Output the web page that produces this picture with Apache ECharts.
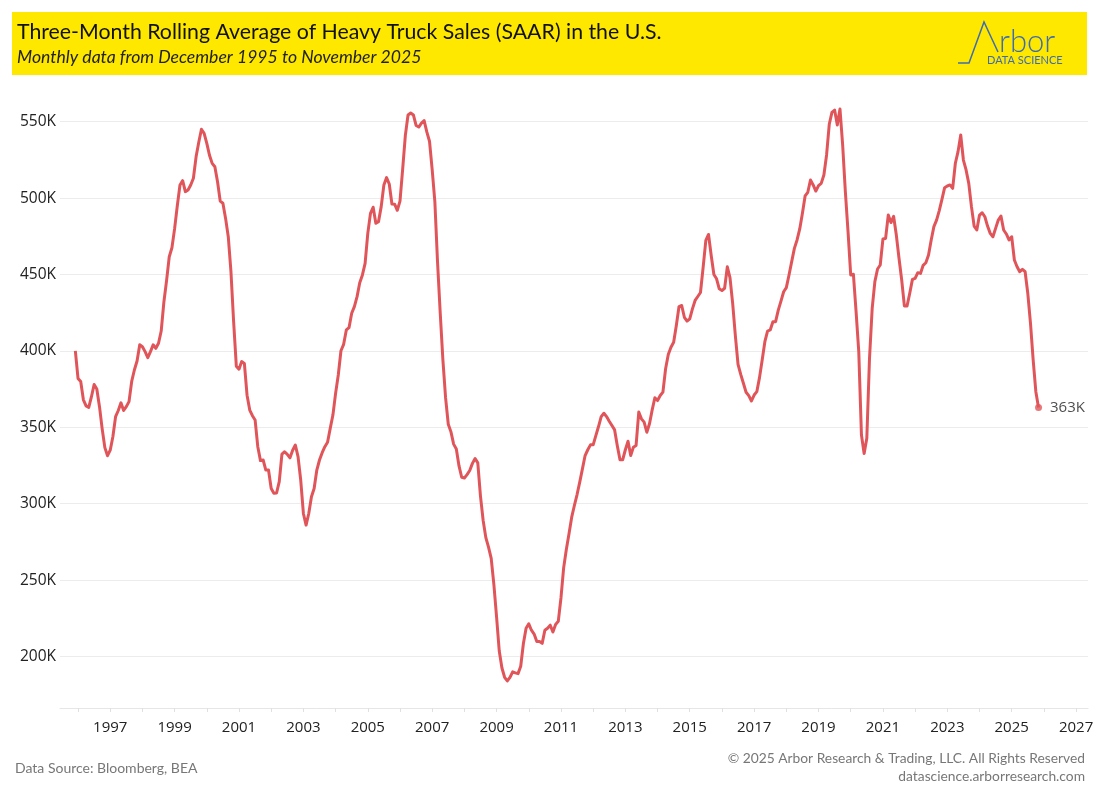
<!DOCTYPE html>
<html>
<head>
<meta charset="utf-8">
<script src="https://cdn.jsdelivr.net/npm/echarts@6/dist/echarts.min.js"></script>
<style>
  html, body { margin: 0; padding: 0; background: #ffffff; }
  #chart { width: 1100px; height: 800px; }
</style>
</head>
<body>
<div id="chart"></div>
<script>
// ---- Data (thousands of units, SAAR, 3-month rolling average) ----
const startYear = 1995;
const startMonth = 12; // December 1995
const truckSales = [
  400, 382, 380, 368, 364, 363, 370, 378, 375, 363.5, 349, 336.7,
  331.4, 335, 344, 357, 361, 366, 361, 363.5, 366.8, 380, 387.5, 393.4,
  404, 402.7, 399.5, 395.6, 399.5, 404, 401.7, 405, 413, 432, 446, 461.6,
  467.5, 480, 495, 508.6, 511.4, 504.2, 505.3, 508.6, 513, 527, 536.5, 545,
  542.4, 535.8, 528, 522.7, 520.5, 510.7, 498, 496.6, 486.7, 474.7, 451.8, 419,
  390, 388, 393, 391.8, 371, 361.3, 357.6, 354.8, 337.3, 328.2, 328.6, 322,
  322, 310, 306.8, 307, 314.4, 332.5, 334, 332.3, 330, 335, 338.4, 330.8,
  315.5, 293.6, 286, 293.6, 304.6, 310, 322, 328.6, 333.4, 337.3, 340.2, 349.3,
  358, 372.2, 384.2, 400.1, 404.3, 413.7, 415.2, 424.6, 429, 435.5, 444.6, 449.7,
  457.3, 476.9, 490, 494, 483.5, 484.6, 494.4, 508.6, 513.4, 509.2, 496.1, 496,
  492, 498, 519, 541, 554.4, 555.7, 554.4, 547.5, 546.5, 549, 550.7, 543.3,
  537.2, 518.6, 497.6, 458.1, 424.8, 393.9, 369.2, 352, 347, 339, 335.8, 324.7,
  317.3, 316.8, 319, 321.7, 326.4, 329.6, 326.7, 305, 289, 277.8, 271.6, 264.2,
  247, 226, 203.6, 192.5, 186.4, 184, 186.4, 190, 189.3, 188.8, 193.6, 208.5,
  218.5, 221.4, 217.2, 214.7, 209.8, 209.8, 208.6, 217.2, 218.5, 220.5, 216, 221,
  223, 238.3, 258, 270, 280.3, 291.2, 298.8, 306, 314.1, 322.8, 331.5, 335.3,
  338.5, 338.5, 344.6, 350.5, 357, 359.2, 357, 354, 351.2, 348.3, 338, 328.7,
  328.7, 335.3, 340.9, 331.5, 337, 338.1, 360, 355.5, 353.4, 346.8, 352.3, 361.4,
  369.3, 367.5, 370.8, 373, 388.3, 397.6, 402.4, 405.7, 416.6, 429, 429.7, 422,
  419.5, 421, 427.5, 433, 435.6, 438.2, 454.8, 472.3, 476.2, 462.4, 450, 447.2,
  440.6, 439.5, 441, 455, 448, 431.1, 410, 391.2, 384.6, 378.8, 372.9, 370.7,
  367.2, 371.1, 373.3, 382.5, 394, 406, 413, 413.7, 419.1, 419.1, 426.7, 432.6,
  438.7, 441.4, 449.7, 458.4, 467.1, 472.6, 479.8, 490, 501.4, 503.8, 511.8, 508.6,
  504.6, 508.1, 509.6, 515.1, 528.2, 548.3, 556.1, 557.6, 547.8, 558.3, 534.7, 504.2,
  478, 449.7, 450.1, 425.7, 399.5, 344.9, 332.9, 342.8, 395, 427.8, 445.3, 453.6,
  456.2, 473.2, 473.6, 489, 484, 488, 475.8, 460.6, 446.4, 429.4, 429.4, 437.7,
  446.8, 447.5, 451.2, 450.7, 456, 457.7, 462.7, 472.6, 481.3, 485.6, 491.8, 499.2,
  506.8, 507.9, 508.6, 506.4, 522.8, 530.4, 541.3, 524.9, 518.4, 509.6, 494.4, 481.7,
  479.1, 488.9, 490.4, 487.8, 481.7, 476.9, 474.7, 480.2, 485.6, 488.3, 479.1, 476.5,
  472.6, 474.7, 459.5, 455.1, 451.8, 453.4, 451.8, 437.7, 418.1, 394.1, 373.3, 363
];
const yearLabels = [1997, 1999, 2001, 2003, 2005, 2007, 2009, 2011, 2013, 2015, 2017, 2019, 2021, 2023, 2025, 2027];
const yearTicks = [1996, 1997, 1998, 1999, 2000, 2001, 2002, 2003, 2004, 2005, 2006, 2007, 2008, 2009, 2010, 2011,
  2012, 2013, 2014, 2015, 2016, 2017, 2018, 2019, 2020, 2021, 2022, 2023, 2024, 2025, 2026, 2027];
const valueTicks = [200, 250, 300, 350, 400, 450, 500, 550];

const titleText = 'Three-Month Rolling Average of Heavy Truck Sales (SAAR) in the U.S.';
const subtitleText = 'Monthly data from December 1995 to November 2025';
const sourceText = 'Data Source: Bloomberg, BEA';
const copyrightText = '\u00A9 2025 Arbor Research & Trading, LLC. All Rights Reserved';
const siteText = 'datascience.arborresearch.com';

// ---- Build series ----
const points = truckSales.map((v, i) => [startYear + (startMonth - 1 + i) / 12, v]);
const lastPoint = points[points.length - 1];

const RED = '#E05559';
const BLUE = '#3d6cb0';
const chart = echarts.init(document.getElementById('chart'), null, { renderer: 'canvas' });

const option = {
  backgroundColor: '#ffffff',
  animation: false,
  grid: { left: 60, right: 12, top: 85, bottom: 92, containLabel: false },
  xAxis: {
    type: 'value',
    min: 1995.44,
    max: 2027.37,
    axisLine: { show: true, lineStyle: { color: '#e6e6e6', width: 1 } },
    axisTick: { show: true, customValues: yearTicks, length: 4, lineStyle: { color: '#e0e0e0' } },
    splitLine: { show: false },
    axisLabel: {
      customValues: yearLabels,
      formatter: v => String(Math.round(v)),
      color: '#222',
      fontFamily: 'Open Sans',
      fontSize: 15,
      margin: 12
    }
  },
  yAxis: {
    type: 'value',
    min: 166.3,
    max: 574,
    axisLine: { show: false },
    axisTick: { show: false, customValues: valueTicks },
    splitLine: { show: true, lineStyle: { color: '#ececec', width: 1 } },
    axisLabel: {
      customValues: valueTicks,
      formatter: v => Math.round(v) + 'K',
      color: '#222',
      fontFamily: 'Open Sans',
      fontSize: 15.5,
      margin: 4
    }
  },
  series: [
    {
      type: 'line',
      data: points,
      showSymbol: false,
      symbol: 'none',
      lineStyle: { color: RED, width: 3, join: 'round' },
      z: 3
    },
    {
      type: 'scatter',
      data: [lastPoint],
      symbol: 'circle',
      symbolSize: 7,
      itemStyle: { color: RED },
      label: {
        show: true,
        position: 'right',
        distance: 8,
        formatter: p => Math.round(p.value[1]) + 'K',
        color: '#222',
        fontFamily: 'Open Sans',
        fontSize: 15
      },
      z: 4
    }
  ],
  graphic: [
    { type: 'rect', left: 12, top: 12, shape: { width: 1075, height: 63 }, style: { fill: '#FFE800' }, z: 0 },
    { type: 'text', left: 17, top: 22, style: { text: titleText, font: '21.3px Lato', fill: '#111' } },
    { type: 'text', left: 17, top: 48, style: { text: subtitleText, font: 'italic 17.6px Lato', fill: '#222' } },
    // logo
    { type: 'polyline', shape: { points: [[958, 63], [969, 63], [984, 22], [998, 52]] }, style: { stroke: BLUE, lineWidth: 1.5, fill: null } },
    { type: 'text', left: 999, top: 26, style: { text: 'rbor', font: '300 31px Lato', fill: BLUE } },
    { type: 'text', left: 987, top: 55, style: { text: 'DATA SCIENCE', font: '11px Lato', fill: BLUE } },
    // footer
    { type: 'text', left: 15, top: 761, style: { text: sourceText, font: '14px Lato', fill: '#777' } },
    { type: 'text', right: 15, top: 752, style: { text: copyrightText, font: '13.8px Lato', fill: '#777' } },
    { type: 'text', right: 15, top: 770, style: { text: siteText, font: '13.8px Lato', fill: '#777' } }
  ]
};
chart.setOption(option);
</script>
</body>
</html>
